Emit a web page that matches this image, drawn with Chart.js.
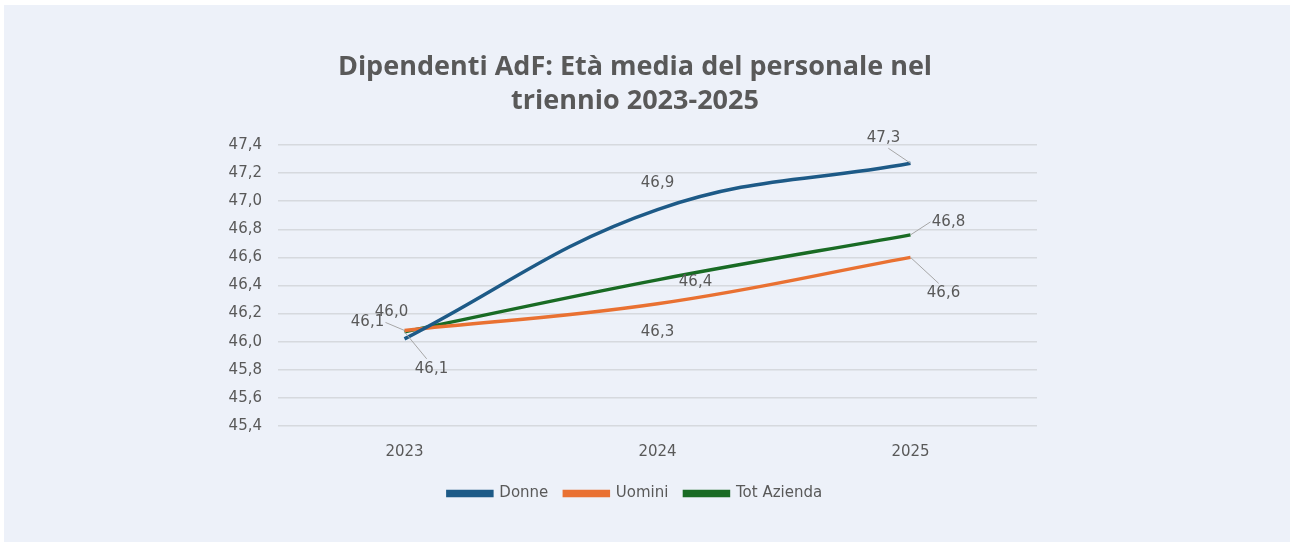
<!DOCTYPE html>
<html>
<head>
<meta charset="utf-8">
<script src="https://cdn.jsdelivr.net/npm/chart.js@4/dist/chart.umd.min.js"></script>
<style>
  body{margin:0;background:#fff;}
  #box{position:absolute;left:4px;top:5px;width:1286px;height:537px;background:#edf1f9;}
</style>
</head>
<body>
<div id="box"><canvas id="graf" width="1286" height="537"></canvas></div>
<script>
// dati
var anni=["2023","2024","2025"];
var donne=[46.02,46.94,47.27];
var uomini=[46.08,46.27,46.60];
var totAzienda=[46.07,46.44,46.76];
var tickY=[45.4,45.6,45.8,46.0,46.2,46.4,46.6,46.8,47.0,47.2,47.4];

// posizione etichette rispetto al punto (dx,dy) e se c'e' la linea guida
var etichette=[
  {dx:[-13,0,-27],dy:[-27,-26,-25],guida:[false,false,true]},
  {dx:[-37,0,33],dy:[-8,28,36],guida:[true,false,true]},
  {dx:[27,38,38],dy:[37,2,-13],guida:[true,false,true]}
];

var grigio="#595959";
var fontBase="'DejaVu Sans', Verdana, sans-serif";

function formatta(v){
  return v.toFixed(1).replace(".",",");
}

var pluginEtichette={
  id:"etichette",
  afterDatasetsDraw:function(chart){
    var ctx=chart.ctx;
    ctx.save();
    ctx.font="15px "+fontBase;
    ctx.fillStyle=grigio;
    ctx.textAlign="center";
    ctx.textBaseline="middle";
    chart.data.datasets.forEach(function(ds,i){
      var meta=chart.getDatasetMeta(i);
      var e=etichette[i];
      meta.data.forEach(function(p,j){
        var x=p.x+e.dx[j], y=p.y+e.dy[j];
        if(e.guida[j]){
          ctx.strokeStyle="#a6a6a6";
          ctx.lineWidth=1;
          ctx.beginPath();
          ctx.moveTo(p.x,p.y);
          var gx=x-(e.dx[j]>0?1:-1)*Math.min(Math.abs(e.dx[j]),16)*0.3;
          var gy=y-(e.dy[j]>0?10:-10);
          if(Math.abs(e.dy[j])<15){gx=x+(e.dx[j]>0?-18:18);gy=y;}
          ctx.lineTo(gx,gy);
          ctx.stroke();
        }
        ctx.fillText(formatta(ds.data[j]),x,y);
      });
    });
    ctx.restore();
  }
};

function serie(nome,dati,colore){
  return {
    label:nome,
    data:dati,
    borderColor:colore,
    backgroundColor:colore,
    borderWidth:3.5,
    pointRadius:0,
    tension:0.4,
    fill:false
  };
}

var grafico=new Chart("graf",{
  type:"line",
  data:{
    labels:anni,
    datasets:[
      serie("Donne",donne,"#1d5a87"),
      serie("Uomini",uomini,"#e97132"),
      serie("Tot Azienda",totAzienda,"#196b24")
    ]
  },
  options:{
    responsive:false,
    animation:false,
    layout:{padding:{left:0,right:24,top:0,bottom:31}},
    plugins:{
      title:{
        display:true,
        text:["Dipendenti AdF: Età media del personale nel","triennio 2023-2025"],
        color:grigio,
        font:{family:"'Open Sans', sans-serif",size:27,weight:"bold",lineHeight:1.24},
        padding:{top:46,bottom:27}
      },
      legend:{
        position:"bottom",
        labels:{
          boxWidth:44,
          boxHeight:4,
          color:grigio,
          padding:16,
          font:{family:fontBase,size:15}
        }
      },
      tooltip:{enabled:false}
    },
    scales:{
      x:{
        offset:true,
        grid:{display:false},
        border:{display:false},
        ticks:{color:grigio,font:{family:fontBase,size:15},padding:9}
      },
      y:{
        min:45.4,
        max:47.4,
        afterBuildTicks:function(s){s.ticks=tickY.map(function(v){return {value:v};});},
        afterFit:function(s){s.width=274;},
        grid:{color:"#d6d9de",lineWidth:1.5,drawTicks:false},
        border:{display:false},
        ticks:{
          color:grigio,
          padding:16,
          font:{family:fontBase,size:15},
          callback:function(v){return formatta(v);}
        }
      },
      vuoto:{
        type:"linear",
        position:"right",
        afterFit:function(s){s.width=229;},
        grid:{display:false},
        border:{display:false},
        ticks:{display:false}
      }
    }
  },
  plugins:[pluginEtichette]
});
</script>
</body>
</html>
